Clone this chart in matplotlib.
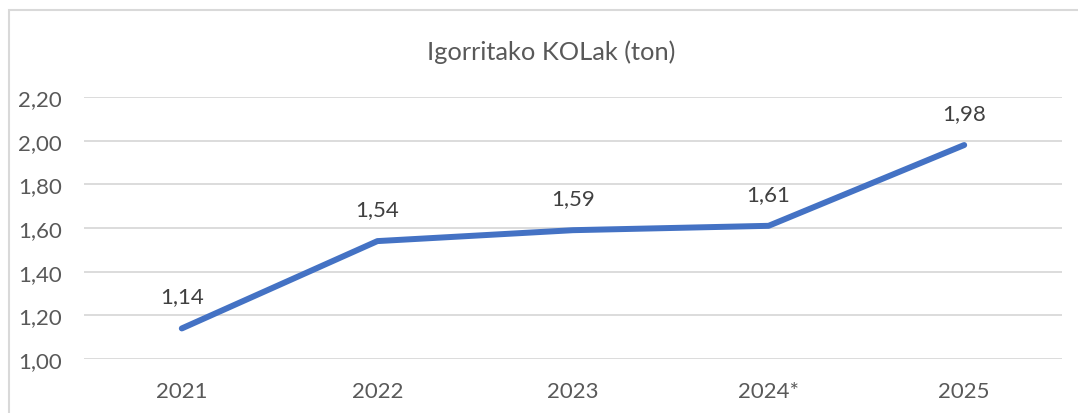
import matplotlib.pyplot as plt
from matplotlib.patches import Rectangle

# Igorritako KOLak (ton)
years = ['2021', '2022', '2023', '2024*', '2025']
values = [1.14, 1.54, 1.59, 1.61, 1.98]
labels = ['1,14', '1,54', '1,59', '1,61', '1,98']
yticks = [1.0, 1.2, 1.4, 1.6, 1.8, 2.0, 2.2]

text_color = '#595959'
grid_color = '#D9D9D9'
line_color = '#4472C4'

plt.rcParams['font.family'] = ['Lato', 'DejaVu Sans']

fig = plt.figure(figsize=(10.78, 4.14), dpi=100)
ax = fig.add_axes([84 / 1078, 1 - 360 / 414, 978 / 1078, 262 / 414])

# chart border (right and bottom edges are cut off in the original)
fig.patches.append(Rectangle((9 / 1078, -0.1), 1.2, 1 - 11 / 414 + 0.1,
                             transform=fig.transFigure, fill=False,
                             edgecolor=grid_color, linewidth=1.5))

x = range(len(years))
ax.plot(x, values, color=line_color, linewidth=4.3, solid_capstyle='round',
        solid_joinstyle='round', zorder=3)
for xi, v, lab in zip(x, values, labels):
    ax.annotate(lab, (xi, v), xytext=(0, 23), textcoords='offset points',
                ha='center', va='center', fontsize=16, color='#404040')

ax.set_xlim(-0.5, len(years) - 0.5)
ax.set_ylim(1.0, 2.2)
ax.set_yticks(yticks)
ax.set_yticklabels([('%.2f' % t).replace('.', ',') for t in yticks])
ax.set_xticks(list(x))
ax.set_xticklabels(years)
ax.grid(axis='y', color=grid_color, linewidth=1.3)
ax.set_axisbelow(True)
for s in ax.spines.values():
    s.set_visible(False)
ax.tick_params(axis='both', length=0, labelsize=16, labelcolor=text_color)
ax.tick_params(axis='y', pad=16)
ax.tick_params(axis='x', pad=16)

fig.text(551 / 1078, 1 - 52 / 414, 'Igorritako KOLak (ton)', ha='center',
         va='center', fontsize=18.3, color=text_color)

fig.savefig('out.png', dpi=100)
